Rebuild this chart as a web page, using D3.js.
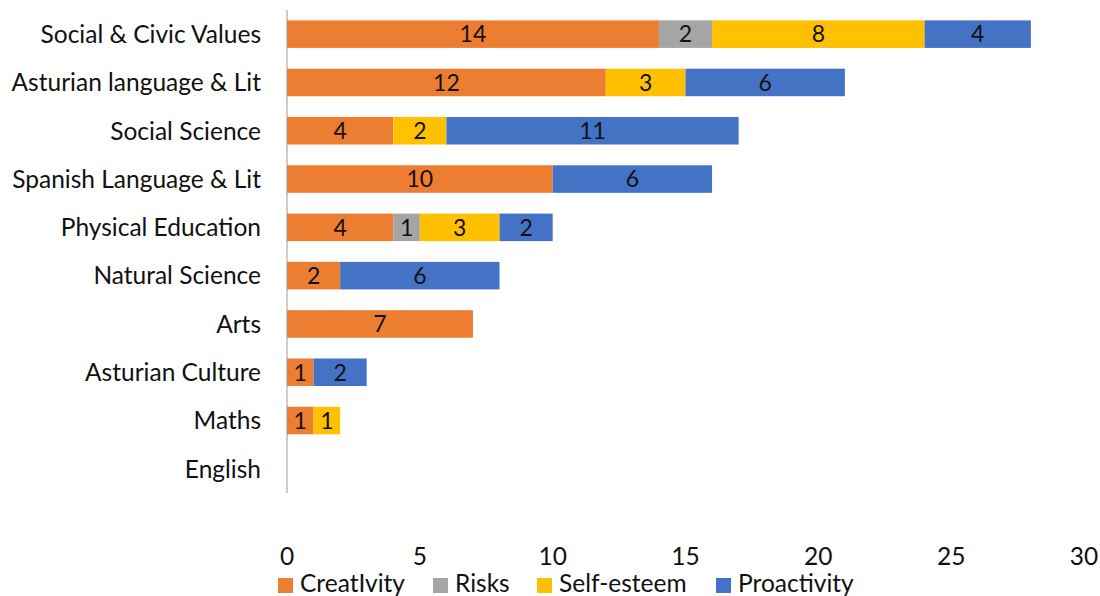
<!DOCTYPE html>
<html>
<head>
<meta charset="utf-8">
<script src="https://cdn.jsdelivr.net/npm/d3@7"></script>
<style>
  html, body { margin: 0; padding: 0; background: #fff; }
  svg { display: block; font-family: Lato, "Open Sans", sans-serif; }
</style>
</head>
<body>
<svg id="chart" width="1100" height="596"></svg>
<script>
// Subjects, top to bottom
const subjects = [
  "Social & Civic Values",
  "Asturian language & Lit",
  "Social Science",
  "Spanish Language & Lit",
  "Physical Education",
  "Natural Science",
  "Arts",
  "Asturian Culture",
  "Maths",
  "English"
];

// Counts per competence, in subject order
const creativity  = [14, 12, 4, 10, 4, 2, 7, 1, 1, 0];
const risks       = [2, 0, 0, 0, 1, 0, 0, 0, 0, 0];
const selfEsteem  = [8, 3, 2, 0, 3, 0, 0, 0, 1, 0];
const proactivity = [4, 6, 11, 6, 2, 6, 0, 2, 0, 0];

const seriesNames = ["CreatIvity", "Risks", "Self-esteem", "Proactivity"];
const seriesColors = ["#ED7D31", "#A5A5A5", "#FFC000", "#4472C4"];
const xTicks = [0, 5, 10, 15, 20, 25, 30];

const keys = ["creativity", "risks", "selfEsteem", "proactivity"];
const rows = subjects.map((s, i) => ({
  subject: s,
  creativity: creativity[i],
  risks: risks[i],
  selfEsteem: selfEsteem[i],
  proactivity: proactivity[i]
}));

const svg = d3.select("#chart");
const labelSize = 24.5;

const x = d3.scaleLinear().domain([0, 30]).range([287, 1084]);
const y = d3.scaleBand().domain(subjects).range([10, 493]).paddingInner(0.43).paddingOuter(0.215);
const color = d3.scaleOrdinal().domain(keys).range(seriesColors);

const stacked = d3.stack().keys(keys)(rows);

// Bars
const layers = svg.append("g").selectAll("g")
  .data(stacked)
  .join("g")
  .attr("fill", d => color(d.key));

layers.selectAll("rect")
  .data(d => d.map(v => ({ v, key: d.key })))
  .join("rect")
  .attr("x", d => x(d.v[0]))
  .attr("y", d => y(d.v.data.subject))
  .attr("width", d => x(d.v[1]) - x(d.v[0]))
  .attr("height", y.bandwidth());

// Value labels inside segments
layers.selectAll("text")
  .data(d => d.filter(v => v[1] - v[0] > 0))
  .join("text")
  .attr("x", d => (x(d[0]) + x(d[1])) / 2)
  .attr("y", d => y(d.data.subject) + y.bandwidth() / 2)
  .attr("dy", "0.36em")
  .attr("text-anchor", "middle")
  .attr("fill", "#111")
  .attr("font-size", 23)
  .text(d => d[1] - d[0]);

// Vertical category axis line
svg.append("line")
  .attr("x1", x(0)).attr("x2", x(0))
  .attr("y1", 10).attr("y2", 493)
  .attr("stroke", "#999").attr("stroke-width", 1);

// Category labels
svg.append("g").selectAll("text")
  .data(subjects)
  .join("text")
  .attr("x", 261)
  .attr("y", d => y(d) + y.bandwidth() / 2)
  .attr("dy", "0.36em")
  .attr("text-anchor", "end")
  .attr("font-size", labelSize)
  .attr("fill", "#111")
  .text(d => d);

// Value axis tick labels
svg.append("g").selectAll("text")
  .data(xTicks)
  .join("text")
  .attr("x", d => x(d))
  .attr("y", 556)
  .attr("dy", "0.36em")
  .attr("text-anchor", "middle")
  .attr("font-size", labelSize)
  .attr("fill", "#111")
  .text(d => d);

// Legend along the bottom edge
const legendX = [278, 433, 537, 716];
const legend = svg.append("g").selectAll("g")
  .data(seriesNames)
  .join("g")
  .attr("transform", (d, i) => `translate(${legendX[i]},578)`);
legend.append("rect")
  .attr("width", 15).attr("height", 15)
  .attr("fill", (d, i) => seriesColors[i]);
legend.append("text")
  .attr("x", 22).attr("y", 14)
  .attr("font-size", labelSize)
  .attr("fill", "#111")
  .text(d => d);
</script>
</body>
</html>
